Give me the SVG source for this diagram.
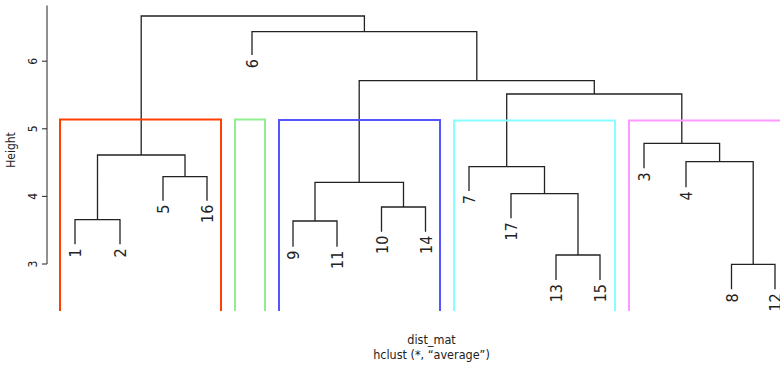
<svg xmlns="http://www.w3.org/2000/svg" width="780" height="365" viewBox="0 0 780 365">
<style>
  .tree path { fill: none; stroke: #222; stroke-width: 1.3; }
  .box { fill: none; stroke-width: 2; }
  .lab { font-family: "DejaVu Sans Condensed", "DejaVu Sans", sans-serif; font-stretch: condensed; font-size: 16px; fill: #222; text-anchor: end; }
  .ax { font-family: "DejaVu Sans Condensed", "DejaVu Sans", sans-serif; font-stretch: condensed; font-size: 12px; fill: #222; text-anchor: middle; }
  .ttl { font-family: "DejaVu Sans Condensed", "DejaVu Sans", sans-serif; font-stretch: condensed; font-size: 12.5px; fill: #222; text-anchor: middle; }
  .axis line { stroke: #222; stroke-width: 1; }
</style>
<rect width="780" height="365" fill="#fff"/>

<g id="axis" class="axis">
  <line x1="47" y1="5.5" x2="47" y2="264"/>
  <line x1="42" y1="61.2" x2="47" y2="61.2"/>
  <line x1="42" y1="128.8" x2="47" y2="128.8"/>
  <line x1="42" y1="196.4" x2="47" y2="196.4"/>
  <line x1="42" y1="264" x2="47" y2="264"/>
  <text class="ax" transform="translate(37,61.2) rotate(-90)">6</text>
  <text class="ax" transform="translate(37,128.8) rotate(-90)">5</text>
  <text class="ax" transform="translate(37,196.4) rotate(-90)">4</text>
  <text class="ax" transform="translate(37,264) rotate(-90)">3</text>
  <text class="ax" transform="translate(15,150) rotate(-90)">Height</text>
</g>

<g id="connectors" class="tree">
  <path d="M75 244.3 V219.7 H120 V244.3"/>
  <path d="M163 200.7 V176.7 H207 V200.7"/>
  <path d="M97.5 219.7 V155 H185 V176.7"/>
  <path d="M293 246.7 V221 H337 V246.7"/>
  <path d="M381.5 231.7 V207 H425.5 V231.7"/>
  <path d="M315 221 V182.3 H403.5 V207"/>
  <path d="M556 280 V255 H600 V280"/>
  <path d="M511 218.3 V193.7 H578 V255"/>
  <path d="M469 191 V166.7 H544.5 V193.7"/>
  <path d="M731.5 289.3 V264.3 H775 V289.3"/>
  <path d="M686 187.3 V161.7 H753.2 V264.3"/>
  <path d="M644 168.3 V143.3 H719.6 V161.7"/>
  <path d="M506.7 166.7 V94 H681.8 V143.3"/>
  <path d="M359.2 182.3 V80.7 H594.3 V94"/>
  <path d="M252 55 V31.7 H476.8 V80.7"/>
  <path d="M141.2 155 V16 H364.4 V31.7"/>
</g>

<g id="leaves">
  <text class="lab" transform="translate(81,248.3) rotate(-90)">1</text>
  <text class="lab" transform="translate(126,248.3) rotate(-90)">2</text>
  <text class="lab" transform="translate(169,204.7) rotate(-90)">5</text>
  <text class="lab" transform="translate(213,204.7) rotate(-90)">16</text>
  <text class="lab" transform="translate(258,59) rotate(-90)">6</text>
  <text class="lab" transform="translate(299,250.7) rotate(-90)">9</text>
  <text class="lab" transform="translate(343,250.7) rotate(-90)">11</text>
  <text class="lab" transform="translate(387.5,235.7) rotate(-90)">10</text>
  <text class="lab" transform="translate(431.5,235.7) rotate(-90)">14</text>
  <text class="lab" transform="translate(475,195) rotate(-90)">7</text>
  <text class="lab" transform="translate(517,222.3) rotate(-90)">17</text>
  <text class="lab" transform="translate(562,284) rotate(-90)">13</text>
  <text class="lab" transform="translate(606,284) rotate(-90)">15</text>
  <text class="lab" transform="translate(650,172.3) rotate(-90)">3</text>
  <text class="lab" transform="translate(692,191.3) rotate(-90)">4</text>
  <text class="lab" transform="translate(737.5,293.3) rotate(-90)">8</text>
  <text class="lab" transform="translate(781,293.3) rotate(-90)">12</text>
</g>

<g id="clusters">
  <path id="cluster1" class="box" stroke="#FF4000" d="M60 311 V119.5 H221 V311"/>
  <path id="cluster2" class="box" stroke="#90EE90" d="M235 311 V119.5 H265 V311"/>
  <path id="cluster3" class="box" stroke="#5555FF" d="M279 311 V120 H440 V311"/>
  <path id="cluster4" class="box" stroke="#88FFFF" d="M454 311 V120.5 H615 V311"/>
  <path id="cluster5" class="box" stroke="#FF99FF" d="M629 311 V120.5 H790"/>
</g>

<g id="titles">
  <text class="ttl" x="431.5" y="344">dist_mat</text>
  <text class="ttl" x="431.5" y="358.5">hclust (*, “average”)</text>
</g>
</svg>
